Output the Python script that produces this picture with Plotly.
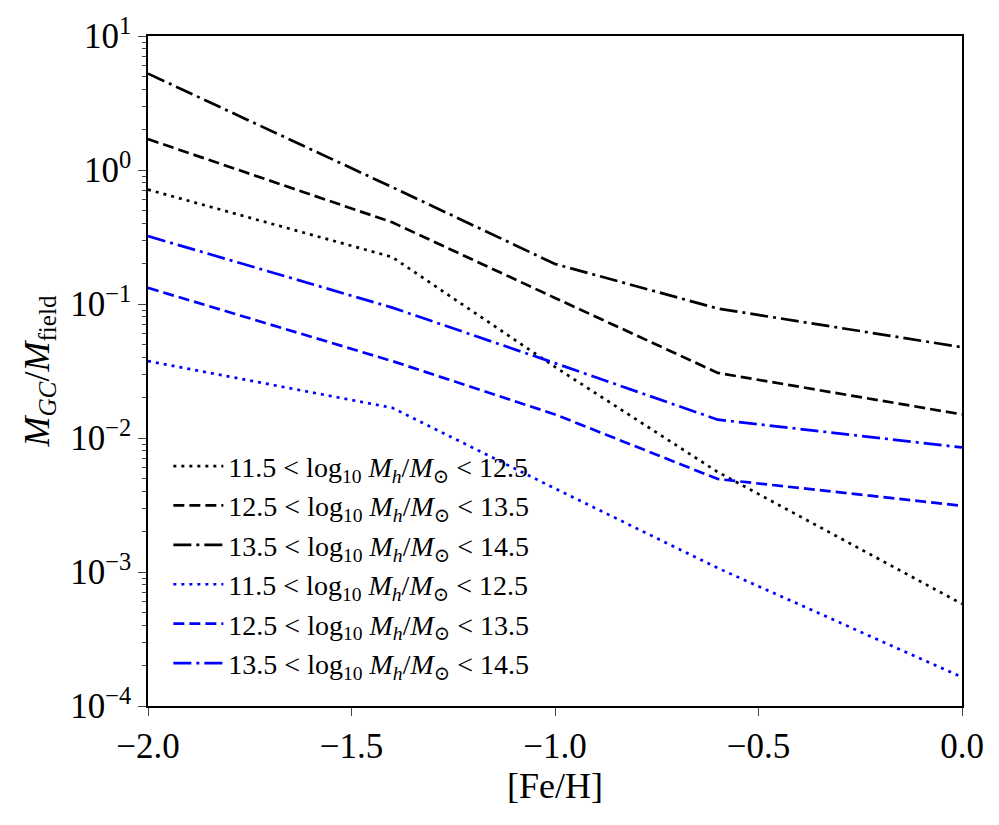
import plotly.graph_objects as go

feh = [-2.0, -1.4, -1.0, -0.6, 0.0]

black_dotted = [0.714, 0.224, 0.0339, 0.00557, 0.000578]
black_dashed = [1.70, 0.407, 0.111, 0.0306, 0.0150]
black_dashdot = [5.24, 0.745, 0.199, 0.0925, 0.0476]
blue_dotted = [0.0375, 0.0168, 0.0042, 0.00107, 0.000164]
blue_dashed = [0.132, 0.0375, 0.0150, 0.00494, 0.00312]
blue_dashdot = [0.321, 0.094, 0.0362, 0.0137, 0.0085]

labels = [
    "11.5 &lt; log<sub>10</sub> <i>M</i><sub><i>h</i></sub>/<i>M</i><sub>⊙</sub> &lt; 12.5",
    "12.5 &lt; log<sub>10</sub> <i>M</i><sub><i>h</i></sub>/<i>M</i><sub>⊙</sub> &lt; 13.5",
    "13.5 &lt; log<sub>10</sub> <i>M</i><sub><i>h</i></sub>/<i>M</i><sub>⊙</sub> &lt; 14.5",
]

ytick_vals = [1e-4, 1e-3, 1e-2, 1e-1, 1e0, 1e1]
ytick_text = ["10<sup>−4</sup>", "10<sup>−3</sup>", "10<sup>−2</sup>",
              "10<sup>−1</sup>", "10<sup>0</sup>", "10<sup>1</sup>"]
xtick_vals = [-2.0, -1.5, -1.0, -0.5, 0.0]

DOT = "3px,5px"
DASH = "11px,5px"
DASHDOT = "18px,5px,3px,5px"

series = [
    (black_dotted, "black", DOT, labels[0]),
    (black_dashed, "black", DASH, labels[1]),
    (black_dashdot, "black", DASHDOT, labels[2]),
    (blue_dotted, "blue", DOT, labels[0]),
    (blue_dashed, "blue", DASH, labels[1]),
    (blue_dashdot, "blue", DASHDOT, labels[2]),
]

fig = go.Figure()
for i, (vals, col, dash, lab) in enumerate(series):
    fig.add_trace(go.Scatter(
        x=feh, y=vals, mode="lines", name=lab,
        legendgroup=f"g{i}",
        line=dict(color=col, dash=dash, width=2.7),
    ))

minor_vals = [m * 10 ** e for e in range(-4, 1) for m in range(2, 10)]

font_family = "Liberation Serif, DejaVu Serif, serif"

fig.update_layout(
    width=999, height=825,
    margin=dict(l=148, r=37, t=30, b=119),
    paper_bgcolor="white", plot_bgcolor="white",
    font=dict(family=font_family, color="black", size=34),
    showlegend=True,
    legend=dict(
        x=0.025, y=0.395, xanchor="left", yanchor="top",
        bgcolor="rgba(255,255,255,0)",
        font=dict(size=28, family=font_family),
        tracegroupgap=0,
        itemwidth=50,
    ),
    xaxis=dict(
        range=[-2.0, 0.0],
        tickvals=xtick_vals, tickformat=".1f",
        ticks="outside", ticklen=8, tickwidth=1.2,
        showline=True, linecolor="black", linewidth=1.5, mirror=True,
        showgrid=False, zeroline=False,
        tickfont=dict(size=35),
        title=dict(text="[Fe/H]", font=dict(size=36), standoff=8),
    ),
    yaxis=dict(
        type="log", range=[-4, 1],
        tickvals=ytick_vals, ticktext=ytick_text,
        ticks="outside", ticklen=8, tickwidth=1.2,
        showline=True, linecolor="black", linewidth=1.5, mirror=True,
        showgrid=False, zeroline=False,
        tickfont=dict(size=35),
        minor=dict(tickvals=minor_vals, ticks="outside", ticklen=4,
                   tickwidth=1, showgrid=False),
        title=dict(text="<i>M</i><sub><i>GC</i></sub>/<i>M</i><sub>field</sub>",
                   font=dict(size=36), standoff=10),
    ),
)

fig.write_html("out.html")
